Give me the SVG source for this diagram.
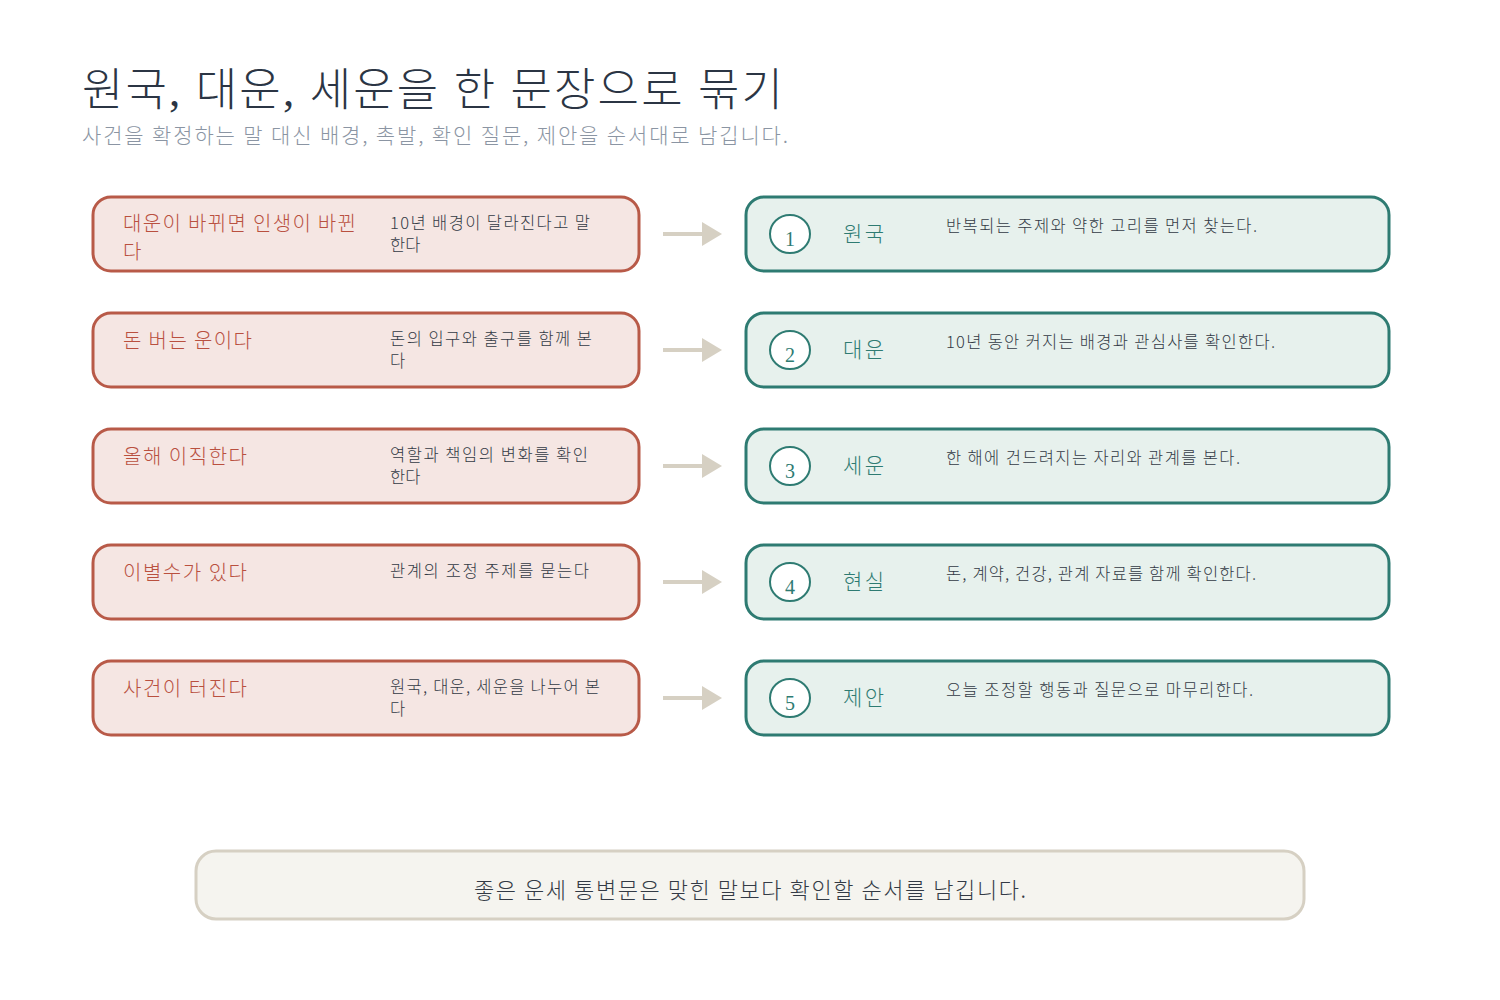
<svg xmlns="http://www.w3.org/2000/svg" width="1500" height="1000" viewBox="0 0 1500 1000">
<defs>
<style>
.title{font-family:"Liberation Serif","Noto Sans CJK KR",serif;font-size:45px;fill:#2b3544;font-weight:300}
.sub{font-family:"Noto Sans CJK KR",sans-serif;font-size:21px;fill:#8b95a3;font-weight:300}
.lbox{fill:#f5e6e3;stroke:#b85a48;stroke-width:3}
.rbox{fill:#e7f1ed;stroke:#2e7b72;stroke-width:3}
.ltxt{font-family:"Noto Sans CJK KR",sans-serif;font-size:20px;fill:#b9503f;font-weight:300}
.ldesc{font-family:"Noto Sans CJK KR",sans-serif;font-size:16.5px;fill:#333a45;font-weight:300}
.circ{fill:#ffffff;stroke:#2e7b72;stroke-width:2}
.num{font-family:"Liberation Serif",serif;font-size:20px;fill:#2e7b72;text-anchor:middle}
.rlab{font-family:"Noto Sans CJK KR",sans-serif;font-size:21px;fill:#2e7b72;font-weight:300}
.rdesc{font-family:"Noto Sans CJK KR",sans-serif;font-size:16.5px;fill:#333a45;font-weight:300}
.conn{stroke:#d6d0c3;stroke-width:4;fill:none}
.bann{fill:#f5f4ef;stroke:#d6d0c3;stroke-width:3}
.btxt{font-family:"Noto Sans CJK KR",sans-serif;font-size:22px;fill:#333a45;font-weight:300}
</style>
<marker id="ah" markerWidth="6" markerHeight="6" refX="0" refY="3" orient="auto" markerUnits="strokeWidth">
<path d="M0,0 L5,3 L0,6 Z" fill="#d6d0c3"/>
</marker>
</defs>
<rect width="1500" height="1000" fill="#ffffff"/>
<g id="header">
<text class="title" x="82" y="106" textLength="701">원국, 대운, 세운을 한 문장으로 묶기</text>
<text class="sub" x="82" y="143" textLength="706">사건을 확정하는 말 대신 배경, 촉발, 확인 질문, 제안을 순서대로 남깁니다.</text>
</g>
<g id="connectors">
<line class="conn" x1="663" y1="234" x2="702" y2="234" marker-end="url(#ah)"/>
<line class="conn" x1="663" y1="350" x2="702" y2="350" marker-end="url(#ah)"/>
<line class="conn" x1="663" y1="466" x2="702" y2="466" marker-end="url(#ah)"/>
<line class="conn" x1="663" y1="582" x2="702" y2="582" marker-end="url(#ah)"/>
<line class="conn" x1="663" y1="698" x2="702" y2="698" marker-end="url(#ah)"/>
</g>
<g id="claim1">
<rect class="lbox" x="93" y="197" width="546" height="74" rx="18"/>
<text class="ltxt"><tspan x="123" y="231" textLength="233">대운이 바뀌면 인생이 바뀐</tspan><tspan x="123" y="259">다</tspan></text>
<text class="ldesc"><tspan x="390" y="229" textLength="200">10년 배경이 달라진다고 말</tspan><tspan x="390" y="251">한다</tspan></text>
</g>
<g id="claim2">
<rect class="lbox" x="93" y="313" width="546" height="74" rx="18"/>
<text class="ltxt" x="123" y="348" textLength="129">돈 버는 운이다</text>
<text class="ldesc"><tspan x="390" y="345" textLength="202">돈의 입구와 출구를 함께 본</tspan><tspan x="390" y="367">다</tspan></text>
</g>
<g id="claim3">
<rect class="lbox" x="93" y="429" width="546" height="74" rx="18"/>
<text class="ltxt" x="123" y="464" textLength="124">올해 이직한다</text>
<text class="ldesc"><tspan x="390" y="461" textLength="198">역할과 책임의 변화를 확인</tspan><tspan x="390" y="483">한다</tspan></text>
</g>
<g id="claim4">
<rect class="lbox" x="93" y="545" width="546" height="74" rx="18"/>
<text class="ltxt" x="123" y="580" textLength="124">이별수가 있다</text>
<text class="ldesc" x="390" y="577" textLength="199">관계의 조정 주제를 묻는다</text>
</g>
<g id="claim5">
<rect class="lbox" x="93" y="661" width="546" height="74" rx="18"/>
<text class="ltxt" x="123" y="696" textLength="124">사건이 터진다</text>
<text class="ldesc"><tspan x="390" y="693" textLength="210">원국, 대운, 세운을 나누어 본</tspan><tspan x="390" y="715">다</tspan></text>
</g>
<g id="step1">
<rect class="rbox" x="746" y="197" width="643" height="74" rx="18"/>
<ellipse class="circ" cx="790" cy="234" rx="20" ry="19"/>
<text class="num" x="790" y="246">1</text>
<text class="rlab" x="843" y="241" textLength="41">원국</text>
<text class="rdesc" x="946" y="232" textLength="311">반복되는 주제와 약한 고리를 먼저 찾는다.</text>
</g>
<g id="step2">
<rect class="rbox" x="746" y="313" width="643" height="74" rx="18"/>
<ellipse class="circ" cx="790" cy="350" rx="20" ry="19"/>
<text class="num" x="790" y="362">2</text>
<text class="rlab" x="843" y="357" textLength="41">대운</text>
<text class="rdesc" x="946" y="348" textLength="329">10년 동안 커지는 배경과 관심사를 확인한다.</text>
</g>
<g id="step3">
<rect class="rbox" x="746" y="429" width="643" height="74" rx="18"/>
<ellipse class="circ" cx="790" cy="466" rx="20" ry="19"/>
<text class="num" x="790" y="478">3</text>
<text class="rlab" x="843" y="473" textLength="41">세운</text>
<text class="rdesc" x="946" y="464" textLength="294">한 해에 건드려지는 자리와 관계를 본다.</text>
</g>
<g id="step4">
<rect class="rbox" x="746" y="545" width="643" height="74" rx="18"/>
<ellipse class="circ" cx="790" cy="582" rx="20" ry="19"/>
<text class="num" x="790" y="594">4</text>
<text class="rlab" x="843" y="589" textLength="41">현실</text>
<text class="rdesc" x="946" y="580" textLength="310">돈, 계약, 건강, 관계 자료를 함께 확인한다.</text>
</g>
<g id="step5">
<rect class="rbox" x="746" y="661" width="643" height="74" rx="18"/>
<ellipse class="circ" cx="790" cy="698" rx="20" ry="19"/>
<text class="num" x="790" y="710">5</text>
<text class="rlab" x="843" y="705" textLength="41">제안</text>
<text class="rdesc" x="946" y="696" textLength="307">오늘 조정할 행동과 질문으로 마무리한다.</text>
</g>
<g id="footer">
<rect class="bann" x="196" y="851" width="1108" height="68" rx="20"/>
<text class="btxt" x="474" y="898" textLength="552">좋은 운세 통변문은 맞힌 말보다 확인할 순서를 남깁니다.</text>
</g>
</svg>
